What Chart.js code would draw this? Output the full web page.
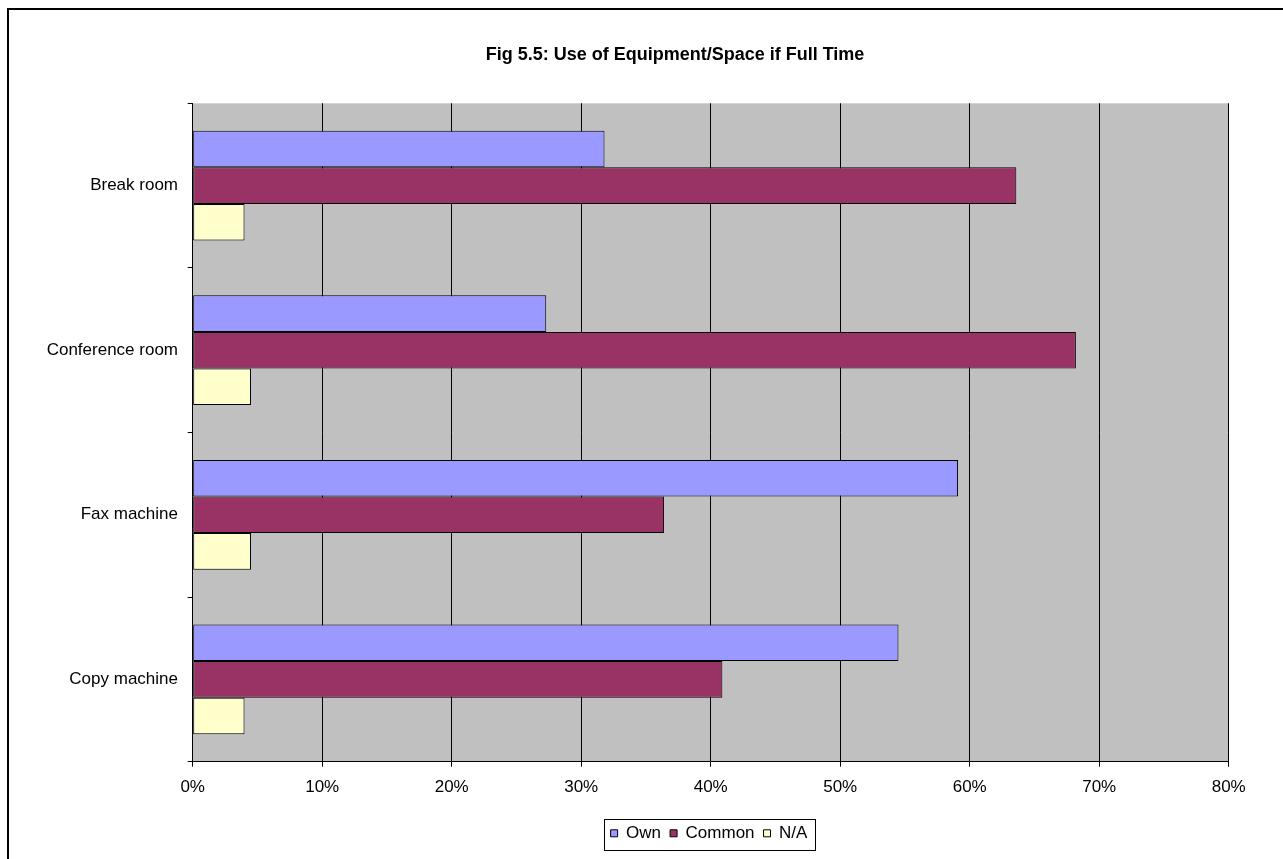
<!DOCTYPE html>
<html>
<head>
<meta charset="utf-8">
<script src="https://cdn.jsdelivr.net/npm/chart.js@4.4.1/dist/chart.umd.min.js"></script>
<style>
  html, body { margin: 0; padding: 0; background: #ffffff; }
  #wrap { width: 1283px; height: 859px; position: relative; }
  canvas { display: block; }
</style>
</head>
<body>
<div id="wrap"><canvas id="c" width="1283" height="859"></canvas></div>
<script>
// ---- data ----
const categories = ['Break room', 'Conference room', 'Fax machine', 'Copy machine'];
const ownValues = [31.8, 27.3, 59.1, 54.5];
const commonValues = [63.6, 68.2, 36.4, 40.9];
const naValues = [4.0, 4.5, 4.5, 4.0];
const seriesNames = ['Own', 'Common', 'N/A'];
const xTickMin = 0, xTickMax = 80, xTickStep = 10;
const chartTitle = 'Fig 5.5: Use of Equipment/Space if Full Time';

const FONT = "'Liberation Sans', Arial, sans-serif";

const plotBg = {
  id: 'plotBg',
  beforeDraw(chart) {
    const {ctx, chartArea: a} = chart;
    ctx.save();
    ctx.fillStyle = '#ffffff';
    ctx.fillRect(0, 0, chart.width, chart.height);
    ctx.fillStyle = '#C0C0C0';
    ctx.fillRect(a.left, a.top, a.right - a.left, a.bottom - a.top);
    ctx.restore();
  }
};

const placeBlocks = {
  id: 'placeBlocks',
  afterLayout(chart) {
    const t = chart.titleBlock;
    if (t) { t.left = 675 - 450; t.right = 675 + 450; }
    const lg = chart.legend;
    if (lg) { lg.left = 709 - 400; lg.right = 709 + 400; }
  }
};

const frame = {
  id: 'frame',
  afterDraw(chart) {
    const ctx = chart.ctx;
    ctx.save();
    ctx.strokeStyle = '#000';
    ctx.lineWidth = 2;
    ctx.beginPath();
    ctx.moveTo(8, 870);
    ctx.lineTo(8, 9);
    ctx.lineTo(1300, 9);
    ctx.stroke();
    // legend box
    const lg = chart.legend;
    if (lg && lg.legendHitBoxes && lg.legendHitBoxes.length) {
      const hb = lg.legendHitBoxes;
      const l = Math.round(hb[0].left - 7) + 0.5;
      const r = Math.round(hb[hb.length - 1].left + hb[hb.length - 1].width + 8) + 0.5;
      const t = Math.round(lg.top + 3) + 0.5;
      const b = Math.round(lg.top + 34.5) + 0.5;
      ctx.lineWidth = 1;
      ctx.strokeRect(l, t, r - l, b - t);
    }
    ctx.restore();
  }
};

new Chart(document.getElementById('c'), {
  type: 'bar',
  data: {
    labels: categories,
    datasets: [
      { label: seriesNames[0], data: ownValues, backgroundColor: '#9999FF' },
      { label: seriesNames[1], data: commonValues, backgroundColor: '#993366' },
      { label: seriesNames[2], data: naValues, backgroundColor: '#FFFFCC' }
    ].map(d => Object.assign(d, { borderColor: '#000000', borderWidth: 1, borderSkipped: false }))
  },
  options: {
    indexAxis: 'y',
    responsive: false,
    animation: false,
    devicePixelRatio: 1,
    datasets: { bar: { categoryPercentage: 0.6667, barPercentage: 1.0 } },
    layout: { padding: { left: 0, right: 54.3, top: 0, bottom: 7.2 } },
    scales: {
      x: {
        type: 'linear',
        position: 'bottom',
        min: xTickMin, max: xTickMax,
        ticks: {
          stepSize: xTickStep,
          color: '#000',
          font: { family: FONT, size: 17 },
          padding: 10.8,
          maxRotation: 0,
          callback: v => v + '%'
        },
        grid: { color: '#000', lineWidth: 1, drawOnChartArea: true, drawTicks: true, tickLength: 5, tickColor: '#000' },
        border: { color: '#000', width: 1 },
        afterFit(s) { s.height = 54.1; s.paddingLeft = 0; s.paddingRight = 0; }
      },
      y: {
        type: 'category',
        position: 'left',
        offset: true,
        ticks: {
          color: '#000',
          font: { family: FONT, size: 17 },
          padding: 9.7,
          autoSkip: false
        },
        grid: { offset: true, drawOnChartArea: false, drawTicks: true, tickLength: 5, color: '#000', tickColor: '#000' },
        border: { color: '#000', width: 1 },
        afterFit(s) { s.width = 192.7; s.paddingTop = 0; s.paddingBottom = 0; }
      }
    },
    plugins: {
      title: {
        display: true,
        text: chartTitle,
        color: '#000',
        font: { family: FONT, size: 18, weight: 'bold' },
        padding: { top: 44.2, bottom: 37.5 }
      },
      legend: {
        display: true,
        position: 'bottom',
        labels: {
          color: '#000',
          font: { family: FONT, size: 17 },
          boxWidth: 7,
          boxHeight: 7,
          padding: 9
        }
      },
      tooltip: { enabled: false }
    }
  },
  plugins: [plotBg, placeBlocks, frame]
});
</script>
</body>
</html>
